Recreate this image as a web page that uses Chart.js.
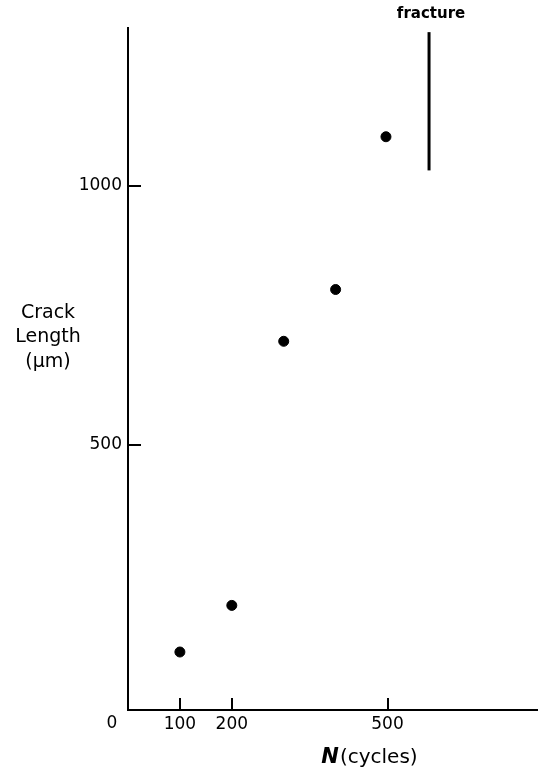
<!DOCTYPE html>
<html>
<head>
<meta charset="utf-8">
<script src="https://cdn.jsdelivr.net/npm/chart.js@4.4.0/dist/chart.umd.min.js"></script>
<style>
  body { margin: 0; background: #fff; }
  #wrap { width: 543px; height: 771px; }
</style>
</head>
<body>
<div id="wrap"><canvas id="crackChart"></canvas></div>
<script>
// data
const cycles = [100, 200, 300, 400, 497];
const crackLength = [100, 190, 700, 800, 1095];
const fractureCycles = [580, 580];
const fractureLength = [1030, 1297];
const xTicks = [100, 200, 500];
const yTicks = [500, 1000];

const FONT = "'DejaVu Sans', 'Liberation Sans', sans-serif";

// inside tick marks, "0" label and the axis titles
const annotations = {
  id: "annotations",
  afterDraw(chart) {
    const ctx = chart.ctx;
    const x = chart.scales.x;
    const y = chart.scales.y;
    const area = chart.chartArea;
    ctx.save();
    ctx.strokeStyle = "#000";
    ctx.lineWidth = 2;
    xTicks.forEach(function (v) {
      const px = Math.round(x.getPixelForValue(v));
      ctx.beginPath();
      ctx.moveTo(px, area.bottom);
      ctx.lineTo(px, area.bottom - 12);
      ctx.stroke();
    });
    yTicks.forEach(function (v) {
      const py = Math.round(y.getPixelForValue(v));
      ctx.beginPath();
      ctx.moveTo(area.left, py);
      ctx.lineTo(area.left + 13, py);
      ctx.stroke();
    });

    ctx.fillStyle = "#000";
    ctx.textBaseline = "middle";
    ctx.font = "17px " + FONT;
    ctx.textAlign = "center";
    ctx.fillText("0", x.getPixelForValue(0) - 16, area.bottom + 14);

    // y title
    ctx.font = "19px " + FONT;
    ctx.fillText("Crack", 48, 313);
    ctx.fillText("Length", 48, 337);
    ctx.fillText("(\u00b5m)", 48, 362);

    // x title
    ctx.textAlign = "left";
    ctx.font = "bold italic 21px " + FONT;
    const nW = ctx.measureText("N").width;
    ctx.font = "20px " + FONT;
    const restW = ctx.measureText("(cycles)").width;
    const start = 369 - (nW + restW) / 2;
    ctx.font = "bold italic 21px " + FONT;
    ctx.fillText("N", start, 758);
    ctx.font = "20px " + FONT;
    ctx.fillText("(cycles)", start + nW + 1, 758);

    // fracture label
    ctx.textAlign = "center";
    ctx.font = "bold 15px " + FONT;
    ctx.fillText("fracture", x.getPixelForValue(fractureCycles[0]) + 2, 14);
    ctx.restore();
  },
};

const ctx = document.getElementById("crackChart").getContext("2d");
new Chart(ctx, {
  type: "scatter",
  data: {
    datasets: [
      {
        label: "Crack length",
        data: cycles.map((c, i) => ({ x: c, y: crackLength[i] })),
        backgroundColor: "#000",
        borderColor: "#000",
        pointRadius: 5,
        showLine: false,
      },
      {
        label: "fracture",
        data: fractureCycles.map((c, i) => ({ x: c, y: fractureLength[i] })),
        borderColor: "#000",
        borderWidth: 3,
        pointRadius: 0,
        showLine: true,
      },
    ],
  },
  options: {
    responsive: true,
    maintainAspectRatio: false,
    animation: false,
    layout: { padding: { top: 28, right: 3, left: 0, bottom: 0 } },
    plugins: {
      legend: { display: false },
      tooltip: { enabled: false },
    },
    scales: {
      x: {
        type: "linear",
        min: 0,
        max: 788,
        afterBuildTicks: (scale) => {
          scale.ticks = xTicks.map((v) => ({ value: v }));
        },
        afterFit: (scale) => {
          scale.height = 61;
        },
        ticks: {
          color: "#000",
          font: { size: 17, family: FONT },
          padding: 4,
          maxRotation: 0,
          callback: (v) => String(v),
        },
        grid: { display: false, drawTicks: false },
        border: { display: true, color: "#000", width: 2 },
      },
      y: {
        type: "linear",
        min: -12,
        max: 1305,
        afterBuildTicks: (scale) => {
          scale.ticks = yTicks.map((v) => ({ value: v }));
        },
        afterFit: (scale) => {
          scale.width = 128;
        },
        ticks: {
          color: "#000",
          font: { size: 17, family: FONT },
          padding: 6,
          callback: (v) => String(v),
        },
        grid: { display: false, drawTicks: false },
        border: { display: true, color: "#000", width: 2 },
      },
    },
  },
  plugins: [annotations],
});
</script>
</body>
</html>
